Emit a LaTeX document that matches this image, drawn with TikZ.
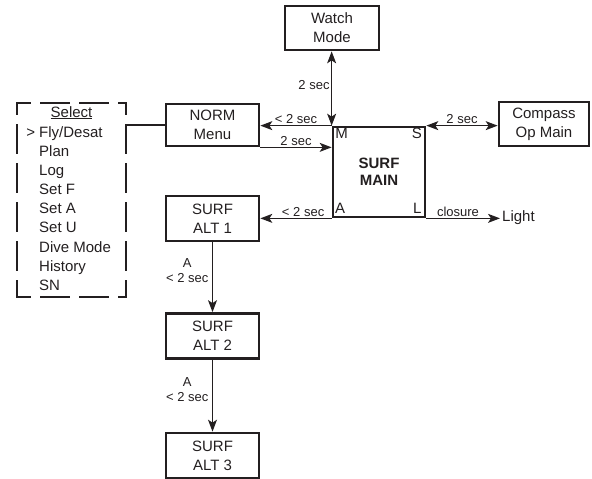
\documentclass[tikz,border=0pt]{standalone}
\usepackage{fontspec}
\setmainfont{Liberation Sans}
\usetikzlibrary{arrows.meta,calc}
\definecolor{ink}{HTML}{231F20}
\begin{document}
\begin{tikzpicture}[x=1pt,y=-1pt, every node/.style={text=ink}, ink,
  box/.style={draw=ink, line width=2.7pt, align=center, inner sep=0pt,
    font=\fontsize{15}{19}\selectfont},
  lbl/.style={font=\fontsize{13}{15}\selectfont, inner sep=1.5pt},
  tip/.tip={Stealth[length=12pt,width=9pt,inset=3pt]},
  conn/.style={draw=ink, line width=1.2pt, -tip},
  dconn/.style={draw=ink, line width=1.2pt, tip-tip},
  plain/.style={draw=ink, line width=1.2pt},
  item/.style={anchor=base west, inner sep=0pt, font=\fontsize{15}{19}\selectfont},
  corner/.style={inner sep=0pt, font=\fontsize{15}{18}\selectfont},
  dashbox/.style={draw=ink, line width=2.7pt, line cap=rect},
]
\useasboundingbox (0,0) rectangle (592,479);

% boxes
\node[box, minimum width=94pt, minimum height=44pt] (watch) at (332,28) {Watch\\Mode};
\node[box, minimum width=92pt, minimum height=90pt, font=\bfseries\fontsize{15}{17}\selectfont] (main) at (379,172) {SURF\\MAIN};
\node[box, minimum width=90pt, minimum height=44pt] (compass) at (544,124) {Compass\\Op Main};
\node[box, minimum width=93pt, minimum height=42pt] (norm) at (212.5,125) {NORM\\Menu};
\node[box, minimum width=93pt, minimum height=45pt] (alt1) at (212.5,218.5) {SURF\\ALT 1};
\node[box, minimum width=93pt, minimum height=45pt] (alt2) at (212.5,336) {SURF\\ALT 2};
\node[box, minimum width=93pt, minimum height=45pt] (alt3) at (212.5,455.5) {SURF\\ALT 3};
\node[inner sep=2pt, anchor=west, font=\fontsize{15}{19}\selectfont] (light) at (500,218) {Light};

% corner letters of SURF MAIN
\node[corner] (mM) at ($(main.north west)+(10,8)$) {M};
\node[corner] (mS) at ($(main.north east)+(-9.5,8)$) {S};
\node[corner] (mA) at ($(main.south west)+(8.5,-10)$) {A};
\node[corner] (mL) at ($(main.south east)+(-9,-10)$) {L};

% select menu
\node[minimum width=109pt, minimum height=194pt, inner sep=0pt, outer sep=0pt] (sel) at (71.5,200) {};
\draw[dashbox, dash pattern=on 27.5pt off 11.5pt, dash phase=15pt] (sel.north west) -- (sel.north east);
\draw[dashbox, dash pattern=on 27.5pt off 11.5pt, dash phase=15pt] (sel.south west) -- (sel.south east);
\draw[dashbox, dash pattern=on 27.5pt off 11.5pt, dash phase=17pt] (sel.north west) -- (sel.south west);
\draw[dashbox, dash pattern=on 27.5pt off 11.5pt, dash phase=17pt] (sel.north east) -- (sel.south east);
\node[item, anchor=base] (seltitle) at (71.5,117) {\underline{Select}};
\foreach \t [count=\i from 0] in {Fly/Desat,Plan,Log,Set F,Set A,Set U,Dive Mode,History,SN}{
  \node[item] (item\i) at (39,137.4+19.1*\i) {\ifnum\i=0 \llap{>\ }\fi\t};
}

% connectors
\draw[plain] (sel.east |- norm.west) -- (norm.west);
\draw[dconn] (main.north west |- watch.south) -- (main.north west)
  node[lbl, left, pos=0.45] {2 sec};
\draw[conn] (main.north west) -- (norm.east |- main.north west)
  node[lbl, above, midway] {< 2 sec};
\draw[conn] (norm.south east) -- (main.west |- norm.south east)
  node[lbl, above, midway] {2 sec};
\draw[dconn] (main.north east) -- (compass.west |- main.north east)
  node[lbl, above, midway] {2 sec};
\draw[conn] (main.south west) -- (alt1.east |- main.south west)
  node[lbl, above, pos=0.4] {< 2 sec};
\draw[conn] (main.south east) -- (light.west |- main.south east)
  node[lbl, above, pos=0.43] {closure};
\draw[conn] (alt1.south) -- (alt2.north)
  node[lbl, left, pos=0.4, align=center, xshift=-2pt] {A\\< 2 sec};
\draw[conn] (alt2.south) -- (alt3.north)
  node[lbl, left, pos=0.42, align=center, xshift=-2pt] {A\\< 2 sec};
\end{tikzpicture}
\end{document}
